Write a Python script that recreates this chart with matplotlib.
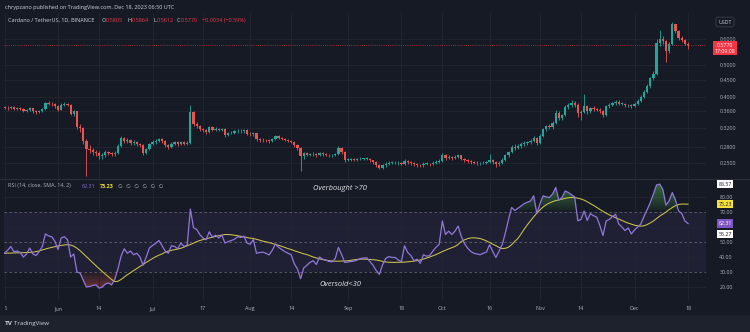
import matplotlib
matplotlib.use("Agg")
import matplotlib.pyplot as plt
import numpy as np
import pandas as pd
from matplotlib.path import Path
from matplotlib.patches import Rectangle
from matplotlib.transforms import Bbox, TransformedBbox

W, H = 750, 332

# ADAUSDT daily candles, Binance, 2023-05-15 .. 2023-12-18
start_date = "2023-05-15"
first_open = 0.372

close = [
    # May
    0.370, 0.368, 0.372, 0.366, 0.368, 0.367, 0.362, 0.364, 0.368, 0.360, 0.358, 0.362, 0.366, 0.382, 0.380, 0.379, 0.373,
    # Jun
    0.365, 0.378, 0.380, 0.377, 0.354, 0.360, 0.322, 0.320, 0.292, 0.276, 0.275, 0.270, 0.268, 0.262, 0.264,
    0.270, 0.268, 0.266, 0.268, 0.282, 0.298, 0.292, 0.295, 0.288, 0.290, 0.286, 0.284, 0.268, 0.276, 0.286,
    # Jul
    0.290, 0.292, 0.296, 0.292, 0.284, 0.280, 0.287, 0.290, 0.286, 0.290, 0.287, 0.289, 0.358, 0.330, 0.326, 0.318,
    0.315, 0.312, 0.322, 0.316, 0.319, 0.316, 0.318, 0.304, 0.309, 0.310, 0.313, 0.314, 0.313, 0.315, 0.308,
    # Aug
    0.306, 0.309, 0.296, 0.294, 0.295, 0.294, 0.292, 0.296, 0.302, 0.299, 0.296, 0.294, 0.292, 0.291, 0.284, 0.278,
    0.262, 0.268, 0.265, 0.266, 0.267, 0.264, 0.268, 0.266, 0.265, 0.264, 0.264, 0.266, 0.278, 0.270, 0.256,
    # Sep
    0.256, 0.257, 0.256, 0.257, 0.258, 0.258, 0.258, 0.255, 0.252, 0.247, 0.242, 0.246, 0.249, 0.251, 0.251,
    0.250, 0.250, 0.249, 0.254, 0.252, 0.250, 0.248, 0.247, 0.246, 0.249, 0.249, 0.248, 0.250, 0.252, 0.254,
    # Oct
    0.264, 0.259, 0.261, 0.259, 0.261, 0.264, 0.258, 0.255, 0.253, 0.252, 0.251, 0.250, 0.250, 0.251, 0.252, 0.256,
    0.252, 0.248, 0.251, 0.256, 0.264, 0.270, 0.280, 0.279, 0.282, 0.286, 0.288, 0.290, 0.292, 0.298, 0.289,
    # Nov
    0.303, 0.318, 0.324, 0.322, 0.332, 0.356, 0.344, 0.350, 0.372, 0.376, 0.382, 0.378, 0.356, 0.358, 0.374,
    0.360, 0.368, 0.366, 0.365, 0.360, 0.350, 0.374, 0.378, 0.382, 0.386, 0.380, 0.380, 0.376, 0.377, 0.374,
    # Dec
    0.380, 0.388, 0.400, 0.414, 0.430, 0.455, 0.470, 0.582, 0.600, 0.592, 0.552, 0.578, 0.668, 0.636, 0.604,
    0.596, 0.5805, 0.5770,
]

high = [
    0.375, 0.373, 0.375, 0.374, 0.371, 0.371, 0.369, 0.367, 0.371, 0.370, 0.363, 0.365, 0.369, 0.386, 0.387, 0.384, 0.382,
    0.376, 0.381, 0.384, 0.383, 0.379, 0.365, 0.362, 0.330, 0.323, 0.296, 0.284, 0.278, 0.274, 0.272, 0.268,
    0.274, 0.273, 0.271, 0.272, 0.286, 0.303, 0.301, 0.299, 0.297, 0.294, 0.292, 0.289, 0.286, 0.279, 0.289,
    0.294, 0.296, 0.299, 0.298, 0.294, 0.287, 0.290, 0.293, 0.292, 0.293, 0.292, 0.292, 0.377, 0.362, 0.334, 0.328,
    0.321, 0.318, 0.326, 0.324, 0.322, 0.321, 0.321, 0.320, 0.312, 0.313, 0.316, 0.317, 0.317, 0.318, 0.317,
    0.311, 0.312, 0.310, 0.299, 0.298, 0.297, 0.296, 0.299, 0.305, 0.304, 0.301, 0.298, 0.296, 0.294, 0.293, 0.286,
    0.280, 0.271, 0.270, 0.269, 0.270, 0.269, 0.271, 0.270, 0.268, 0.267, 0.267, 0.269, 0.283, 0.280, 0.272,
    0.259, 0.259, 0.259, 0.260, 0.261, 0.260, 0.261, 0.259, 0.256, 0.253, 0.249, 0.249, 0.252, 0.254, 0.254,
    0.253, 0.253, 0.252, 0.258, 0.256, 0.254, 0.252, 0.250, 0.249, 0.252, 0.252, 0.251, 0.253, 0.255, 0.257,
    0.268, 0.266, 0.264, 0.263, 0.264, 0.267, 0.265, 0.260, 0.257, 0.255, 0.254, 0.253, 0.252, 0.253, 0.254, 0.266,
    0.258, 0.254, 0.253, 0.259, 0.267, 0.273, 0.284, 0.286, 0.287, 0.290, 0.292, 0.293, 0.296, 0.302, 0.300,
    0.306, 0.321, 0.328, 0.330, 0.336, 0.364, 0.360, 0.354, 0.378, 0.383, 0.389, 0.387, 0.381, 0.364, 0.408,
    0.378, 0.372, 0.373, 0.370, 0.368, 0.363, 0.377, 0.382, 0.386, 0.390, 0.389, 0.384, 0.383, 0.380, 0.380,
    0.384, 0.392, 0.404, 0.419, 0.436, 0.460, 0.478, 0.600, 0.640, 0.612, 0.596, 0.588, 0.676, 0.670, 0.640,
    0.615, 0.600, 0.5864,
]

low = [
    0.366, 0.365, 0.366, 0.363, 0.364, 0.364, 0.359, 0.359, 0.361, 0.356, 0.354, 0.355, 0.359, 0.364, 0.376, 0.375, 0.370,
    0.361, 0.363, 0.374, 0.373, 0.350, 0.348, 0.318, 0.312, 0.287, 0.228, 0.268, 0.264, 0.262, 0.258, 0.258,
    0.261, 0.264, 0.262, 0.263, 0.266, 0.280, 0.288, 0.288, 0.284, 0.285, 0.282, 0.280, 0.265, 0.266, 0.274,
    0.284, 0.287, 0.290, 0.289, 0.281, 0.277, 0.278, 0.285, 0.283, 0.284, 0.284, 0.285, 0.286, 0.326, 0.321, 0.314,
    0.311, 0.308, 0.310, 0.313, 0.313, 0.313, 0.313, 0.301, 0.302, 0.306, 0.307, 0.310, 0.310, 0.310, 0.305,
    0.302, 0.303, 0.292, 0.291, 0.291, 0.291, 0.289, 0.290, 0.294, 0.297, 0.294, 0.292, 0.290, 0.289, 0.281, 0.275,
    0.237, 0.258, 0.262, 0.262, 0.263, 0.261, 0.262, 0.263, 0.262, 0.261, 0.261, 0.262, 0.264, 0.267, 0.252,
    0.253, 0.254, 0.253, 0.254, 0.255, 0.256, 0.255, 0.252, 0.249, 0.244, 0.239, 0.240, 0.244, 0.247, 0.248,
    0.248, 0.247, 0.246, 0.247, 0.249, 0.247, 0.245, 0.244, 0.243, 0.244, 0.246, 0.245, 0.246, 0.248, 0.250,
    0.252, 0.256, 0.257, 0.256, 0.257, 0.259, 0.255, 0.252, 0.250, 0.249, 0.248, 0.247, 0.247, 0.248, 0.249, 0.250,
    0.249, 0.243, 0.245, 0.249, 0.254, 0.261, 0.268, 0.275, 0.276, 0.279, 0.283, 0.285, 0.287, 0.290, 0.284,
    0.286, 0.300, 0.314, 0.318, 0.318, 0.330, 0.340, 0.340, 0.348, 0.366, 0.372, 0.372, 0.345, 0.340, 0.355,
    0.354, 0.356, 0.362, 0.360, 0.356, 0.346, 0.348, 0.370, 0.375, 0.378, 0.376, 0.376, 0.372, 0.372, 0.370,
    0.371, 0.377, 0.385, 0.396, 0.410, 0.426, 0.450, 0.466, 0.570, 0.580, 0.510, 0.545, 0.574, 0.628, 0.596,
    0.588, 0.574, 0.5612,
]

# RSI(14) and its 14-day SMA
rsi = [
    42.6, 44.5, 47.0, 43.5, 44.0, 43.0, 40.0, 42.0, 46.0, 42.0, 41.0, 43.5, 47.0, 55.4, 54.0, 53.5, 50.5,
    45.0, 52.7, 53.5, 51.6, 40.0, 42.0, 30.0, 29.3, 24.5, 20.0, 20.3, 21.0, 21.4, 19.3, 19.8,
    22.0, 22.7, 21.4, 25.0, 32.0, 40.5, 45.5, 42.5, 44.0, 41.5, 42.5, 40.0, 34.5, 40.0, 46.0,
    47.7, 49.0, 51.0, 47.7, 44.0, 42.5, 47.5, 47.0, 45.5, 49.3, 47.0, 48.0, 72.0, 59.5, 58.4, 55.0,
    52.7, 51.5, 56.8, 53.2, 54.5, 52.7, 54.5, 49.3, 50.2, 51.0, 51.8, 53.5, 53.0, 53.9, 49.3,
    48.5, 51.6, 42.5, 43.0, 43.2, 42.5, 41.4, 44.5, 48.6, 46.5, 45.0, 43.6, 42.5, 41.5, 35.5, 32.0,
    25.5, 32.7, 34.5, 36.4, 37.5, 35.0, 40.0, 38.5, 38.0, 37.0, 36.8, 39.0, 46.4, 41.8, 36.4,
    36.6, 37.0, 37.3, 38.0, 39.0, 39.3, 39.5, 37.0, 34.5, 31.0, 28.4, 34.7, 39.0, 40.3, 39.7,
    39.7, 38.0, 37.0, 47.5, 43.0, 41.0, 37.5, 38.5, 35.8, 41.5, 40.5, 41.0, 44.0, 46.5, 48.5,
    64.0, 55.0, 57.2, 55.0, 57.2, 60.6, 53.8, 49.0, 46.0, 43.7, 42.5, 42.0, 41.5, 42.5, 43.3, 48.2,
    43.7, 39.7, 44.0, 48.2, 56.0, 65.0, 73.0, 71.0, 72.5, 74.0, 75.6, 76.5, 77.4, 80.8, 69.0,
    75.6, 80.8, 80.1, 79.7, 82.0, 86.4, 77.9, 79.7, 84.0, 83.0, 81.5, 80.1, 64.2, 65.0, 70.7,
    64.4, 68.9, 67.5, 66.6, 61.0, 54.3, 64.0, 65.0, 67.0, 68.4, 62.0, 60.0, 57.6, 59.4, 55.4,
    58.0, 60.0, 62.0, 67.0, 71.5, 76.3, 82.0, 88.0, 88.6, 85.0, 74.5, 77.5, 83.0, 78.0, 70.7,
    69.0, 64.0, 62.31,
]

rsi_ma = [
    42.5, 42.6, 42.6, 42.7, 42.8, 42.8, 42.9, 43.0, 43.1, 43.2, 43.6, 44.1, 44.7, 45.3, 45.9, 46.4,
    46.9, 47.3, 47.7, 48.0, 48.2, 48.0, 47.2, 45.9, 44.2, 42.2, 40.2, 38.2, 36.2, 34.2, 32.3,
    30.4, 28.6, 26.8, 25.0, 23.6, 23.8, 25.0, 26.6, 28.2, 29.5, 31.0, 32.3, 33.7, 35.0, 36.4,
    37.7, 39.0, 40.2, 41.2, 42.0, 43.2, 43.9, 44.4, 44.9, 45.3, 45.8, 46.6, 47.5, 48.3, 49.2,
    50.2, 51.0, 51.6, 52.1, 52.7, 53.2, 53.7, 54.2, 54.6, 55.0, 55.0, 54.8, 54.5, 54.2, 53.8,
    53.4, 53.0, 52.6, 52.3, 51.8, 51.2, 50.6, 50.1, 49.6, 49.0, 48.4, 47.8, 47.1, 46.4, 45.6,
    45.0, 44.2, 43.5, 42.8, 42.1, 41.6, 40.8, 40.0, 39.4, 38.7, 38.3, 37.9, 37.6, 37.3, 37.2,
    37.2, 37.3, 37.3, 37.5, 37.8, 38.1, 38.4, 38.6, 38.6, 38.5, 38.3, 38.2, 38.0, 37.6, 37.1,
    36.7, 36.5, 36.4, 36.4, 36.5, 36.5, 36.6, 36.8, 37.0, 37.3, 37.6, 38.0, 38.6, 39.3, 40.0,
    40.8, 41.6, 42.6, 43.6, 44.5, 45.4, 46.2, 47.0, 48.4, 50.3, 51.4, 52.2, 52.7, 52.8, 52.6,
    52.3, 51.6, 50.7, 49.7, 48.6, 47.5, 46.4, 45.6, 45.8, 46.5, 48.2, 50.4, 52.4, 55.4, 58.6,
    61.5, 64.2, 66.8, 69.2, 71.4, 73.3, 74.9, 76.0, 76.9, 77.6, 78.1, 78.6, 79.1, 79.5, 79.7,
    79.6, 79.2, 78.7, 77.9, 76.8, 75.6, 74.4, 73.1, 71.7, 70.4, 69.2, 68.1, 67.1, 66.2, 65.3,
    64.4, 63.4, 62.6, 61.9, 61.2, 60.8, 60.6, 60.8, 61.6, 62.7, 64.0, 65.6, 67.2, 68.6, 70.0,
    71.6, 73.0, 74.2, 75.0, 75.3, 75.3, 75.23,
]

rsi_upper = 88.57
rsi_lower = 55.27
last_open, last_high, last_low = 0.5805, 0.5864, 0.5612
last_change, last_change_pct = -0.0034, -0.59
countdown = "17:09:08"

price_ticks = [0.25, 0.28, 0.32, 0.36, 0.40, 0.45, 0.50, 0.60]
rsi_ticks = [20, 30, 40, 50, 70, 80]
time_ticks = ["2023-05-15", "2023-06-01", "2023-06-14", "2023-07-01", "2023-07-17",
              "2023-08-01", "2023-08-14", "2023-09-01", "2023-09-18", "2023-10-01",
              "2023-10-16", "2023-11-01", "2023-11-14", "2023-12-01", "2023-12-18"]
time_labels = ["15", "Jun", "14", "Jul", "17", "Aug", "14", "Sep", "18", "Oct",
               "16", "Nov", "14", "Dec", "18"]

BG = "#161a25"
FOOT = "#1e222d"
GRID = "#222632"
TXT = "#b2b5be"
UP, DOWN = "#26a69a", "#ef5350"
RED = "#f23645"
RSI_C, MA_C = "#9177dc", "#cfc34a"

plt.rcParams["font.family"] = ["Open Sans", "DejaVu Sans"]


def add_axes_px(left, top, right, bottom):
    return fig.add_axes([left / W, 1 - bottom / H, (right - left) / W, (bottom - top) / H])


def fig_text(x, y, s, **kw):
    return fig.text(x / W, 1 - y / H, s, **kw)


def gradient_fill(ax, x, y, level, limit, rgb, max_alpha):
    """Fill between y and a level with alpha growing toward `limit`."""
    if limit > level:
        poly = ax.fill_between(x, level, y, where=y >= level, interpolate=True,
                               facecolor="none", edgecolor="none")
        origin = "lower"
    else:
        poly = ax.fill_between(x, y, level, where=y <= level, interpolate=True,
                               facecolor="none", edgecolor="none")
        origin = "upper"
    paths = poly.get_paths()
    if not paths:
        return
    img = np.zeros((256, 1, 4))
    img[..., :3] = rgb
    img[:, 0, 3] = np.linspace(0, 1, 256) ** 0.8 * max_alpha
    lo, hi = sorted([level, limit])
    im = ax.imshow(img, extent=(x[0], x[-1], lo, hi), origin=origin,
                   aspect="auto", zorder=1, interpolation="bilinear")
    im.set_clip_path(Path.make_compound_path(*paths), transform=ax.transData)


close = np.array(close)
high = np.array(high)
low = np.array(low)
rsi = np.array(rsi)
rsi_ma = np.array(rsi_ma)
opens = np.concatenate([[first_open], close[:-1]])
high = np.maximum(high, np.maximum(opens, close))
low = np.minimum(low, np.minimum(opens, close))

dates = pd.date_range(start_date, periods=len(close), freq="D")
x = np.arange(len(close), dtype=float)
tick_x = dates.get_indexer(pd.to_datetime(time_ticks)).astype(float)

fig = plt.figure(figsize=(W / 100, H / 100), dpi=100, facecolor=BG)

# footer band
fig.patches.append(Rectangle((0, 0), 1, 17 / H, transform=fig.transFigure,
                             facecolor=FOOT, edgecolor="none", zorder=0))

x_lo, x_hi = (4 - 4.5) / 3.15, (706 - 4.5) / 3.15

# ---- price pane ----
ax_p = add_axes_px(4, 13, 706, 178)
ax_p.set_facecolor(BG)
ax_p.set_yscale("log")
ax_p.set_ylim(0.225, 0.7217)
ax_p.set_xlim(x_lo, x_hi)
ax_p.minorticks_off()

up = close >= opens
colors = np.where(up, UP, DOWN)
ax_p.vlines(x, low, high, colors=colors, linewidth=0.6, zorder=3)
body_lo = np.minimum(opens, close)
body_h = np.maximum(np.abs(close - opens), body_lo * 0.003)
ax_p.bar(x, body_h, bottom=body_lo, width=0.7, color=colors, linewidth=0, zorder=4)

ax_p.axhline(close[-1], color=RED, linewidth=0.6, linestyle=(0, (1, 1.6)), alpha=0.8, zorder=2)

ax_p.set_xticks(tick_x)
ax_p.set_yticks(price_ticks)
ax_p.set_yticklabels([f"{v:.4f}" for v in price_ticks])
ax_p.yaxis.tick_right()
ax_p.tick_params(axis="y", length=0, pad=9.6, labelsize=3.9, labelcolor=TXT)
ax_p.tick_params(axis="x", length=0, labelbottom=False)
ax_p.grid(True, color=GRID, linewidth=0.6)
for s in ax_p.spines.values():
    s.set_visible(False)

# ---- RSI pane ----
ax_r = add_axes_px(4, 179, 706, 300)
ax_r.set_facecolor(BG)
ax_r.set_xlim(x_lo, x_hi)

ax_r.axhspan(30, 70, color="#7e57c2", alpha=0.1, linewidth=0, zorder=0)
for lvl in (20, 40, 60, 80):
    ax_r.axhline(lvl, color=GRID, linewidth=0.6, zorder=0.5)
for lvl in (30, 50, 70):
    ax_r.axhline(lvl, color="#787b86", linewidth=0.6, linestyle=(0, (3, 3)), alpha=0.75, zorder=2)

gradient_fill(ax_r, x, rsi, 70, 100, (0.30, 0.69, 0.31), 0.75)
gradient_fill(ax_r, x, rsi, 30, 0, (0.94, 0.33, 0.31), 0.85)

ax_r.plot(x, rsi_ma, color=MA_C, linewidth=0.75, zorder=3)
ax_r.plot(x, rsi, color=RSI_C, linewidth=0.9, zorder=4)

ax_r.set_ylim(11.33, 92)
ax_r.set_xlim(x_lo, x_hi)
ax_r.set_yticks(rsi_ticks)
ax_r.set_yticklabels([f"{v:.2f}" for v in rsi_ticks])
ax_r.yaxis.tick_right()
ax_r.tick_params(axis="y", length=0, pad=9.6, labelsize=3.9, labelcolor=TXT)
ax_r.set_xticks(tick_x)
ax_r.set_xticklabels(time_labels)
ax_r.tick_params(axis="x", length=0, pad=4.2, labelsize=3.9, labelcolor=TXT)
ax_r.grid(True, axis="x", color=GRID, linewidth=0.6)
for s in ax_r.spines.values():
    s.set_visible(False)

# the leftmost date label is cut by the pane edge
first_lbl = ax_r.get_xticklabels()[0]
first_lbl.set_clip_box(TransformedBbox(Bbox.from_extents(4.6 / W, 0, 1, 1), fig.transFigure))
first_lbl.set_clip_on(True)

# pane separator
fig.add_artist(plt.Line2D([0, 1], [1 - 178.5 / H] * 2, color="#2a2e39", linewidth=0.8))

# ---- right scale badges ----
yax_p = ax_p.get_yaxis_transform()
yax_r = ax_r.get_yaxis_transform()
bx = (725 - 4) / 702

fig_text(725, 22, "USDT", ha="center", va="center", fontsize=3.8, color="#d1d4dc",
         bbox=dict(boxstyle="round,pad=0.45", facecolor=BG, edgecolor="#434651", linewidth=0.5))

ax_p.annotate(f"{close[-1]:.4f}\n{countdown}", xy=(bx, close[-1]), xycoords=yax_p,
              xytext=(0, -2.4), textcoords="offset points", ha="center", va="center",
              fontsize=3.8, color="white", linespacing=1.25, annotation_clip=False,
              bbox=dict(boxstyle="square,pad=0.35", facecolor=RED, edgecolor="none"))

badges = [
    (rsi_upper, "white", "#131722"),
    (rsi_ma[-1], "#f2e03c", "#131722"),
    (rsi[-1], "#7e57c2", "white"),
    (rsi_lower, "white", "#131722"),
]
for val, fc, tc in badges:
    ax_r.text(bx, val, f"{val:.2f}", transform=yax_r, ha="center", va="center",
              fontsize=3.8, color=tc, clip_on=False,
              bbox=dict(boxstyle="square,pad=0.3", facecolor=fc, edgecolor="none"))

# ---- header / legends ----
fig_text(5, 7, "chrypzano published on TradingView.com, Dec 18, 2023 06:50 UTC",
         fontsize=4.0, color="#d1d4dc", va="center")

hdr = [
    (8, "Cardano / TetherUS, 1D, BINANCE", "#d1d4dc"),
    (102, "O", "#d1d4dc"), (105.5, f"{last_open:.4f}", RED),
    (128, "H", "#d1d4dc"), (132, f"{last_high:.4f}", RED),
    (153, "L", "#d1d4dc"), (156.5, f"{last_low:.4f}", RED),
    (176.5, "C", "#d1d4dc"), (180.5, f"{close[-1]:.4f}", RED),
    (202, f"\u2212{abs(last_change):.4f} (\u2212{abs(last_change_pct):.2f}%)", RED),
]
for hx, s, c in hdr:
    fig_text(hx, 20.5, s, fontsize=4.0, color=c, va="center")

fig_text(8, 186, "RSI (14, close, SMA, 14, 2)", fontsize=3.9, color=TXT, va="center")
fig_text(82, 186, f"{rsi[-1]:.2f}", fontsize=3.9, color="#8c6fd6", va="center")
fig_text(100, 186, f"{rsi_ma[-1]:.2f}", fontsize=3.9, color="#f2e03c", va="center",
         fontweight="bold")
fig_text(118, 186, "  ".join(["\u2205"] * 6), fontsize=3.9, color=TXT, va="center",
         family=["DejaVu Sans"])

fig_text(340, 188, "Overbought >70", fontsize=5.4, color="#e8e8ec", style="italic",
         ha="center", va="center")
fig_text(340, 285, "Oversold<30", fontsize=5.4, color="#e8e8ec", style="italic",
         ha="center", va="center")

fig_text(5, 323.5, "TV", fontsize=4.6, color="#d1d4dc", fontweight="bold", va="center")
fig_text(14.5, 323.5, "TradingView", fontsize=4.4, color="#d1d4dc", va="center")

fig.savefig("out.png", dpi=100, facecolor=BG)
